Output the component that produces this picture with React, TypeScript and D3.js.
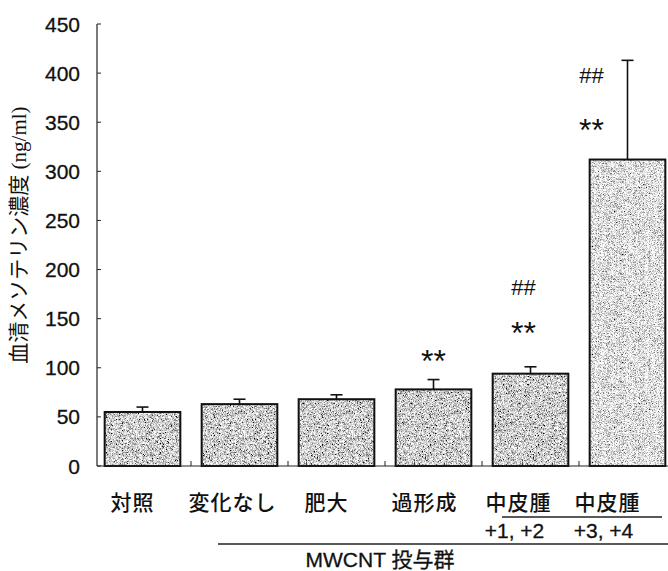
import React from "react";
import * as d3 from "d3";

const categories = ["対照", "変化なし", "肥大", "過形成", "中皮腫", "中皮腫"];
const subLabels = ["", "", "", "", "+1, +2", "+3, +4"];
const means = [55, 63, 68, 78, 94, 312];
const errors = [5, 5, 4.5, 10, 7, 101];
const starValues = [null, null, null, 115, 143, 350];
const hashValues = [null, null, null, null, 182, 398];
const yTicks = [0, 50, 100, 150, 200, 250, 300, 350, 400, 450];
const yLabel = "血清メソテリン濃度 (ng/ml)";
const groupLabel = "MWCNT 投与群";

const W = 668;
const H = 571;
const labelDx = [-10, -7, -10, -9, -12, -20];
const subDx = [0, 0, 0, 0, -16, -24];
const annotDx = [0, 0, 0, 0, -7, -36];

export default function App() {
  const x = d3
    .scaleBand<number>()
    .domain(d3.range(categories.length))
    .range([94, 676])
    .paddingInner(0.22)
    .paddingOuter(0.11);
  const y = d3.scaleLinear().domain([0, 450]).range([466, 24]);
  const axisX = 97;
  const sans = "'Liberation Sans', Arial, 'Noto Sans CJK JP', sans-serif";
  const jp = "'Noto Sans CJK JP', 'Liberation Sans', sans-serif";

  const boundaries = d3.range(1, categories.length).map(
    (i) => (x(i - 1)! + x.bandwidth() + x(i)!) / 2
  );

  return (
    <svg
      width={W}
      height={H}
      style={{ position: "absolute", left: 0, top: 0, background: "#fff" }}
    >
      <defs>
        <filter id="stip" x="0" y="0" width="1" height="1">
          <feTurbulence type="fractalNoise" baseFrequency="2.37" numOctaves="1" seed="4" result="n" />
          <feColorMatrix
            in="n"
            type="matrix"
            values="2.6 0 0 0 -0.68  2.6 0 0 0 -0.68  2.6 0 0 0 -0.68  0 0 0 0 1"
            result="g"
          />
          <feComposite in="g" in2="SourceGraphic" operator="in" />
        </filter>
        <filter id="stipLight" x="0" y="0" width="1" height="1">
          <feTurbulence type="fractalNoise" baseFrequency="2.37" numOctaves="1" seed="7" result="n" />
          <feColorMatrix
            in="n"
            type="matrix"
            values="2.6 0 0 0 -0.56  2.6 0 0 0 -0.56  2.6 0 0 0 -0.56  0 0 0 0 1"
            result="g"
          />
          <feComposite in="g" in2="SourceGraphic" operator="in" />
        </filter>
      </defs>

      {/* bars */}
      {means.map((m, i) => {
        const bx = x(i)!;
        const bw = x.bandwidth();
        const top = y(m);
        const h = y(0) - top;
        const cx = bx + bw / 2;
        return (
          <g key={i}>
            <rect
              x={bx}
              y={top}
              width={bw}
              height={h}
              fill="#000"
              filter={i === 5 ? "url(#stipLight)" : "url(#stip)"}
            />
            <rect x={bx} y={top} width={bw} height={h} fill="none" stroke="#111" strokeWidth={2} />
            <line x1={cx} x2={cx} y1={top} y2={y(m + errors[i])} stroke="#111" strokeWidth={1.6} />
            <line x1={cx - 6} x2={cx + 6} y1={y(m + errors[i])} y2={y(m + errors[i])} stroke="#111" strokeWidth={1.6} />
          </g>
        );
      })}

      {/* annotations */}
      {starValues.map((v, i) =>
        v == null ? null : (
          <text
            key={"s" + i}
            x={x(i)! + x.bandwidth() / 2 + annotDx[i]}
            y={y(v) + 18.5}
            textAnchor="middle"
            fontFamily={sans}
            fontSize={32}
            fill="#111"
          >
            **
          </text>
        )
      )}
      {hashValues.map((v, i) =>
        v == null ? null : (
          <text
            key={"h" + i}
            x={x(i)! + x.bandwidth() / 2 + annotDx[i]}
            y={y(v) + 7.7}
            textAnchor="middle"
            fontFamily={sans}
            fontSize={22}
            fill="#111"
          >
            ##
          </text>
        )
      )}

      {/* y axis */}
      <line x1={axisX} x2={axisX} y1={y(450)} y2={y(0)} stroke="#222" strokeWidth={1.2} />
      {yTicks.map((t) => (
        <g key={t}>
          <line x1={axisX} x2={axisX + 4} y1={y(t)} y2={y(t)} stroke="#222" strokeWidth={1} />
          <text
            x={80}
            y={y(t)}
            textAnchor="end"
            dominantBaseline="central"
            fontFamily={sans}
            fontSize={21}
            stroke="#111"
            strokeWidth={0.3}
            fill="#111"
          >
            {t}
          </text>
        </g>
      ))}

      {/* x axis */}
      <line x1={axisX} x2={W} y1={y(0)} y2={y(0)} stroke="#222" strokeWidth={1.2} />
      {boundaries.map((b, i) => (
        <line key={i} x1={b} x2={b} y1={y(0)} y2={y(0) - 5} stroke="#222" strokeWidth={1} />
      ))}

      {/* category labels */}
      {categories.map((c, i) => (
        <text
          key={"c" + i}
          x={x(i)! + x.bandwidth() / 2 + labelDx[i]}
          y={501}
          textAnchor="middle"
          dominantBaseline="central"
          fontFamily={jp}
          fontSize={21}
          letterSpacing={1}
          fontWeight={500}
          fill="#111"
        >
          {c}
        </text>
      ))}
      <line x1={502} x2={662} y1={517} y2={517} stroke="#222" strokeWidth={1.5} />
      {subLabels.map((s, i) =>
        s ? (
          <text
            key={"sub" + i}
            x={x(i)! + x.bandwidth() / 2 + subDx[i]}
            y={538}
            textAnchor="middle"
            fontFamily={sans}
            fontSize={21}
            stroke="#111"
            strokeWidth={0.3}
            fill="#111"
          >
            {s}
          </text>
        ) : null
      )}
      <line x1={218} x2={668} y1={544} y2={544} stroke="#222" strokeWidth={1.5} />
      <text
        x={380}
        y={567}
        textAnchor="middle"
        fontFamily={sans}
        fontSize={21}
        stroke="#111"
        strokeWidth={0.3}
        fill="#111"
      >
        {groupLabel}
      </text>

      {/* y label */}
      <text
        transform={`translate(19, 235) rotate(-90)`}
        textAnchor="middle"
        dominantBaseline="central"
        fontFamily={"'Liberation Serif', 'Noto Sans CJK JP', serif"}
        fontSize={21}
        fill="#111"
      >
        {yLabel}
      </text>
    </svg>
  );
}
